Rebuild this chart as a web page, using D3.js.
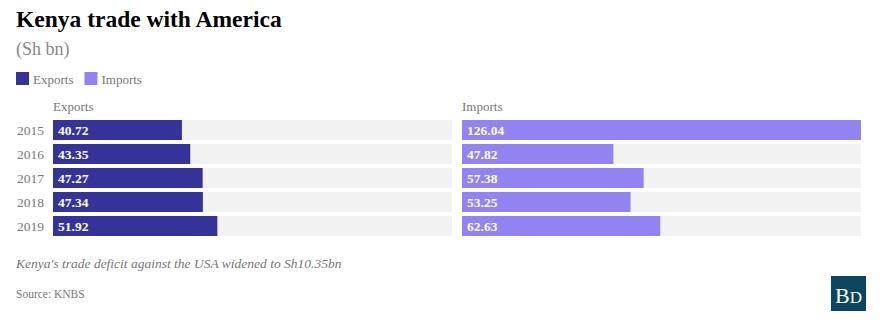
<!DOCTYPE html>
<html>
<head>
<meta charset="utf-8">
<script src="https://cdn.jsdelivr.net/npm/d3@7/dist/d3.min.js"></script>
<style>
  html, body { margin: 0; padding: 0; background: #fff; }
  svg { display: block; }
</style>
</head>
<body>
<svg id="chart" width="883" height="326"></svg>
<script>
// Kenya–USA trade, Sh bn
const years = ["2015", "2016", "2017", "2018", "2019"];
const exportsValues = [40.72, 43.35, 47.27, 47.34, 51.92];
const importsValues = [126.04, 47.82, 57.38, 53.25, 62.63];
const seriesNames = ["Exports", "Imports"];
const seriesColors = ["#353399", "#9283f2"];

const serif = "Georgia, 'Liberation Serif', 'Times New Roman', serif";
const svg = d3.select("#chart");

// Title block
svg.append("text").attr("x", 16).attr("y", 27)
  .attr("font-family", serif).attr("font-weight", "bold").attr("font-size", 23.5)
  .attr("fill", "#000").text("Kenya trade with America");
svg.append("text").attr("x", 16).attr("y", 55)
  .attr("font-family", serif).attr("font-size", 18)
  .attr("fill", "#888").text("(Sh bn)");

// Legend
const legend = svg.append("g");
let lx = 16;
seriesNames.forEach((name, i) => {
  legend.append("rect").attr("x", lx).attr("y", 72).attr("width", 13).attr("height", 13)
    .attr("fill", seriesColors[i]);
  const t = legend.append("text").attr("x", lx + 17).attr("y", 84)
    .attr("font-family", serif).attr("font-size", 13).attr("fill", "#777").text(name);
  lx += 17 + t.node().getComputedTextLength() + 11;
});

// Shared scales
const maxVal = d3.max(importsValues.concat(exportsValues));
const panelWidth = 399;
const x = d3.scaleLinear().domain([0, maxVal]).range([0, panelWidth]);
const y = d3.scaleBand().domain(years).range([118, 238]).paddingInner(4 / 24).paddingOuter(2 / 24);

const panels = [
  { name: "Exports", values: exportsValues, color: seriesColors[0], left: 53 },
  { name: "Imports", values: importsValues, color: seriesColors[1], left: 462 }
];

panels.forEach(p => {
  const g = svg.append("g").attr("transform", `translate(${p.left},0)`);
  g.append("text").attr("x", 0).attr("y", 111)
    .attr("font-family", serif).attr("font-size", 13).attr("fill", "#777").text(p.name);
  // background tracks
  g.selectAll("rect.track").data(years).join("rect").attr("class", "track")
    .attr("x", 0).attr("y", d => y(d)).attr("width", x(maxVal)).attr("height", y.bandwidth())
    .attr("fill", "#f2f2f2");
  // bars
  g.selectAll("rect.bar").data(p.values).join("rect").attr("class", "bar")
    .attr("x", 0).attr("y", (d, i) => y(years[i])).attr("width", d => x(d)).attr("height", y.bandwidth())
    .attr("fill", p.color);
  // value labels
  g.selectAll("text.val").data(p.values).join("text").attr("class", "val")
    .attr("x", 5).attr("y", (d, i) => y(years[i]) + y.bandwidth() / 2 + 4.5)
    .attr("font-family", serif).attr("font-weight", "bold").attr("font-size", 13.5)
    .attr("fill", "#fff").text(d => d.toFixed(2));
});

// Year labels
svg.selectAll("text.year").data(years).join("text").attr("class", "year")
  .attr("x", 17).attr("y", d => y(d) + y.bandwidth() / 2 + 4.5)
  .attr("font-family", serif).attr("font-size", 13.5)
  .attr("fill", "#777").text(d => d);

// Notes
svg.append("text").attr("x", 16).attr("y", 268)
  .attr("font-family", serif).attr("font-style", "italic").attr("font-size", 13.5)
  .attr("fill", "#777").text("Kenya's trade deficit against the USA widened to Sh10.35bn");
svg.append("text").attr("x", 16).attr("y", 298)
  .attr("font-family", serif).attr("font-size", 11.5)
  .attr("fill", "#777").text("Source: KNBS");

// Logo
const logo = svg.append("g").attr("transform", "translate(831,276)");
logo.append("rect").attr("width", 35).attr("height", 35).attr("fill", "#0b4560");
const mark = logo.append("text").attr("x", 17.5).attr("y", 27).attr("text-anchor", "middle")
  .attr("font-family", "'Liberation Serif', 'Times New Roman', serif")
  .attr("fill", "#fff");
mark.append("tspan").attr("font-size", 22).text("B");
mark.append("tspan").attr("font-size", 17).text("D");
</script>
</body>
</html>
